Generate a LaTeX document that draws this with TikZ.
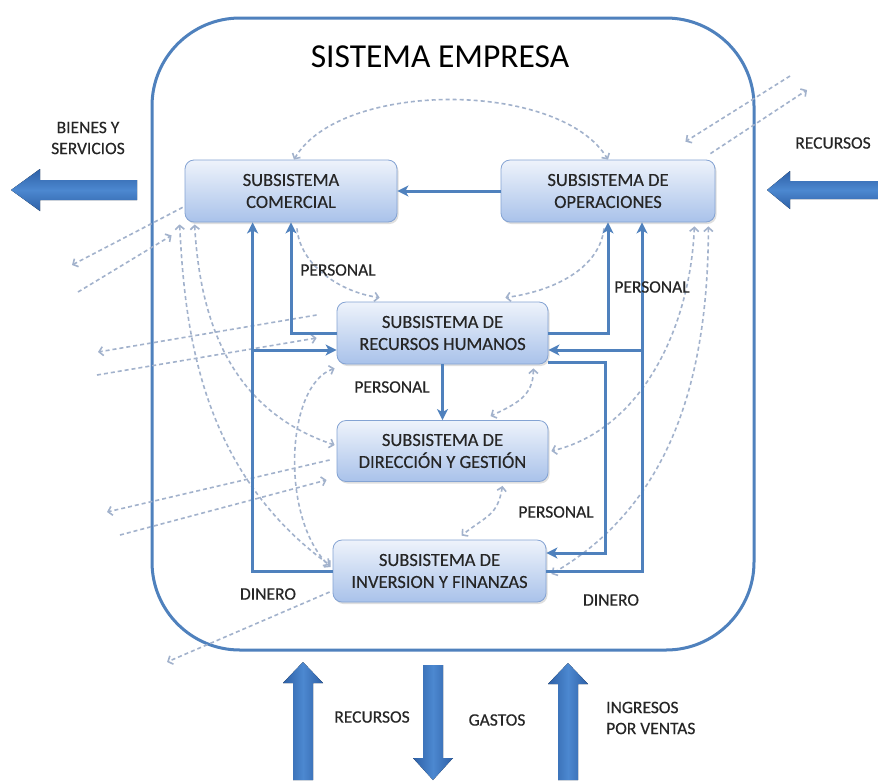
\documentclass[tikz,border=0pt]{standalone}
\usepackage{fontspec}
\setmainfont{Carlito}
\newfontfamily\semiheavy{Carlito}[FakeBold=0.35]
\usetikzlibrary{arrows.meta,shadows,calc}

\definecolor{lineblue}{HTML}{4F81BD}
\definecolor{arrowdark}{HTML}{2E60A6}
\definecolor{arrowlight}{HTML}{4C88D0}
\definecolor{dashblue}{HTML}{A2B2CC}
\definecolor{boxtop}{HTML}{EEF3FB}
\definecolor{boxbot}{HTML}{A9C2EA}
\definecolor{boxedge}{HTML}{84A3D3}
\definecolor{txt}{HTML}{262626}

\begin{document}
\begin{tikzpicture}[x=1pt,y=-1pt,
  subsys/.style={rounded corners=9pt, draw=boxedge, line width=0.8pt,
    top color=boxtop, bottom color=boxbot, minimum width=212pt, minimum height=62pt,
    inner sep=0pt, align=center, text=txt, font=\semiheavy\fontsize{18.5}{22}\selectfont,
    drop shadow={shadow xshift=1.5pt, shadow yshift=-2pt, opacity=0.25}},
  lbl/.style={text=txt, font=\semiheavy\fontsize{17.5}{21}\selectfont, align=left, inner sep=0pt},
  flow/.style={draw=lineblue, line width=3pt, -{Stealth[length=11pt,width=11pt,inset=3pt]}},
  dflow/.style={draw=dashblue, line width=1.6pt, dash pattern=on 4pt off 3pt},
  tipb/.style={-{Straight Barb[length=4pt,width=9pt]}},
  tipab/.style={{Straight Barb[length=4pt,width=9pt]}-{Straight Barb[length=4pt,width=9pt]}},
  vblock/.style={left color=arrowdark, right color=arrowdark, middle color=arrowlight},
  hblock/.style={top color=arrowdark, bottom color=arrowdark, middle color=arrowlight},
]
% canvas
\useasboundingbox (0,0) rectangle (878,780);
\fill[white] (0,0) rectangle (878,780);

% enterprise boundary
\draw[line width=3pt, lineblue, rounded corners=88pt] (152,18) rectangle (754,650);
\node[font=\fontsize{33.5}{40}\selectfont, text=black, inner sep=0pt] (title) at (440,57) {SISTEMA EMPRESA};

% subsystems
\node[subsys] (com) at (291,191) {SUBSISTEMA\\COMERCIAL};
\node[subsys, minimum width=214pt] (ope) at (608,191) {SUBSISTEMA DE\\OPERACIONES};
\node[subsys, minimum width=211pt] (rh) at (442.5,333) {SUBSISTEMA DE\\RECURSOS HUMANOS};
\node[subsys, minimum width=211pt, minimum height=61pt] (dir) at (442.5,451) {SUBSISTEMA DE\\DIRECCIÓN Y GESTIÓN};
\node[subsys, minimum width=213pt] (inv) at (439.5,571) {SUBSISTEMA DE\\INVERSION Y FINANZAS};

% free ends of the exchange lines
\coordinate (tr1) at (790,76);
\coordinate (tr2) at (807,90);
\coordinate (lo1) at (72,265);
\coordinate (li1) at (78,292);
\coordinate (lo2) at (98,352);
\coordinate (li2) at (97,375);
\coordinate (lo3) at (107,512);
\coordinate (li3) at (120,535);
\coordinate (lo4) at (167,662);

% dashed exchanges (information / influence)
\draw[dflow, tipab] ([xshift=3pt]com.north) .. controls (340,80) and (560,80) .. (ope.north);
\draw[dflow, tipb] (tr1) -- ($(ope.north east)+(-30,-18)$);
\draw[dflow, tipb] ($(ope.north east)+(-5,-6)$) -- (tr2);
\draw[dflow, tipb] ($(com.south west)+(-2,-15)$) -- (lo1);
\draw[dflow, tipb] (li1) -- ($(com.south west)+(-13,13)$);
\draw[dflow, tipab] ($(com.south west)+(-5,2)$) .. controls (185,330) and (200,470) .. ($(inv.west)+(-3,-6)$);
\draw[dflow, tipab] ($(com.south west)+(10,2)$) .. controls (200,320) and (230,410) .. ($(dir.west)+(-2,-6)$);
\draw[dflow, tipb] ($(com.south)+(6,6)$) .. controls (300,265) and (340,292) .. ($(rh.north west)+(43,-4)$);
\draw[dflow, tipb] ($(ope.south)+(-4,6)$) .. controls (600,265) and (560,290) .. ($(rh.north east)+(-43,-4)$);
\draw[dflow, tipab] ($(ope.south east)+(-21,4)$) .. controls (690,330) and (640,430) .. ($(dir.east)+(3,0)$);
\draw[dflow, tipab] ($(ope.south east)+(-7,4)$) .. controls (708,360) and (680,500) .. ($(inv.east)+(5,3)$);
\draw[dflow, tipab] ($(rh.south east)+(-15,4)$) .. controls +(0,28) and +(25,-12) .. ($(dir.north)+(48,-4)$);
\draw[dflow, tipab] ($(dir.south)+(60,4)$) .. controls +(-5,30) and +(25,-20) .. ($(inv.north)+(22,-4)$);
\draw[dflow, tipab] ($(rh.south west)+(-2,4)$) .. controls (285,385) and (280,520) .. ($(inv.west)+(-2,-4)$);
\draw[dflow, tipb] ($(rh.west)+(-20,-18)$) -- (lo2);
\draw[dflow, tipb] (li2) -- ($(rh.west)+(-20,5)$);
\draw[dflow, tipb] ($(dir.west)+(-7,9)$) -- (lo3);
\draw[dflow, tipb] (li3) -- ($(dir.west)+(-10,29)$);
\draw[dflow, tipb] ($(inv.west)+(-3,21)$) -- (lo4);

% solid flows between subsystems
\draw[flow] (ope.west) -- (com.east);
\draw[flow] (rh.west) -| (com.south);
\draw[flow] (inv.west) -| ($(com.south west)+(68,0)$);
\coordinate (lbus) at (253,350);
\draw[flow] (lbus) -- (lbus -| rh.west);
\draw[flow] (rh.east) -| (ope.south);
\draw[flow] (inv.east) -| ($(ope.south)+(34,0)$);
\coordinate (rbus) at (642,350);
\draw[flow] (rbus) -- (rbus -| rh.east);
\draw[flow] ($(rh.south east)+(0,-2)$) -- ++(57,0) |- ($(inv.east)+(0,-18)$);
\draw[flow] (rh.south) -- (dir.north);

% flow labels
\node[lbl] (p1) at (338,270) {PERSONAL};
\node[lbl] (p2) at (652,287) {PERSONAL};
\node[lbl] (p3) at (392,387) {PERSONAL};
\node[lbl] (p4) at (556,512) {PERSONAL};
\node[lbl] (d1) at (268,594) {DINERO};
\node[lbl] (d2) at (611,600) {DINERO};

% exchanges with the environment
\fill[hblock] (137,180) -- (40,180) -- (40,169) -- (11,190) -- (40,211) -- (40,200) -- (137,200) -- cycle;
\fill[hblock] (878,181) -- (790,181) -- (790,171) -- (767,190) -- (790,209) -- (790,199) -- (878,199) -- cycle;
\fill[vblock] (293,780) -- (293,683) -- (283,683) -- (303,662) -- (323,683) -- (313,683) -- (313,780) -- cycle;
\fill[vblock] (423,665) -- (423,758) -- (413,758) -- (433,780) -- (453,758) -- (443,758) -- (443,665) -- cycle;
\fill[vblock] (558,780) -- (558,684) -- (548,684) -- (568,663) -- (588,684) -- (578,684) -- (578,780) -- cycle;

\node[lbl, align=center] (bys) at (88,138) {BIENES Y\\SERVICIOS};
\node[lbl] (recin) at (833,143) {RECURSOS};
\node[lbl] (recb) at (372,717) {RECURSOS};
\node[lbl] (gas) at (497,720) {GASTOS};
\node[lbl, anchor=west] (ing) at (606,718) {INGRESOS\\POR VENTAS};
\end{tikzpicture}
\end{document}
